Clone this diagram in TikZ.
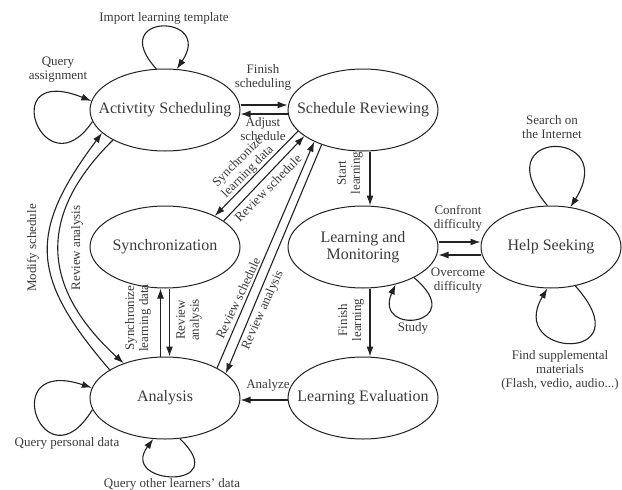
\documentclass[tikz,border=0pt]{standalone}
\usepackage{fontspec}
\setmainfont{Liberation Serif}
\usetikzlibrary{shapes.geometric,arrows.meta}
\definecolor{linec}{HTML}{222222}
\definecolor{txt}{HTML}{3A3A3A}
\begin{document}
\begin{tikzpicture}[x=1pt,y=-1pt,
  st/.style={ellipse,draw=linec,line width=1pt,minimum width=150pt,minimum height=82pt,
    inner xsep=-20pt,inner ysep=0pt,font=\fontsize{16}{17}\selectfont,text=txt,align=center},
  arr/.style={draw=linec,line width=1.1pt,-{Latex[length=10pt,width=7pt]}},
  lbl/.style={font=\fontsize{13}{14}\selectfont,text=txt,align=center,inner sep=0pt}
]
\useasboundingbox (0,0) rectangle (622,490);

% states
\node[st] (AS) at (165,110) {Activtity Scheduling};
\node[st] (SR) at (363,110) {Schedule Reviewing};
\node[st] (SY) at (165,247) {Synchronization};
\node[st] (LM) at (363,247) {Learning and\\Monitoring};
\node[st,minimum width=140pt] (HS) at (551,247) {Help Seeking};
\node[st] (LE) at (363,398) {Learning Evaluation};
\node[st] (AN) at (165,398) {Analysis};

% straight transitions
\draw[arr] ([yshift=5pt]AS.east) -- ([yshift=5pt]SR.west);
\draw[arr] ([yshift=-4pt]SR.west) -- ([yshift=-4pt]AS.east);
\draw[arr] ([xshift=7pt]SR.south) -- ([xshift=7pt]LM.north);
\draw[arr] ([xshift=7pt]LM.south) -- ([xshift=7pt]LE.north);
\draw[arr] ([yshift=5pt]LM.east) -- ([yshift=5pt]HS.west);
\draw[arr] ([yshift=-8pt]HS.west) -- ([yshift=-8pt]LM.east);
\draw[arr] ([yshift=-2pt]LE.west) -- ([yshift=-2pt]AN.east);
\draw[arr] ([xshift=-4.5pt]AN.north) -- ([xshift=-4.5pt]SY.south);
\draw[arr] ([xshift=4.5pt]SY.south) -- ([xshift=4.5pt]AN.north);

% diagonals
\draw[arr] (SR.198) -- (SY.32);
\draw[arr] (SY.24) -- (SR.204);
\draw[arr] (AN.30) -- (SR.213);
\draw[arr] (SR.220) -- (AN.22);

% long curves on the left
\draw[arr] (AN.153) .. controls +(-79,-92) and +(-75,100) .. (AS.200);
\draw[arr] (AS.210) .. controls +(-76,75) and +(-83,-76) .. (AN.140);

% self loops
\draw[arr] (AS.102) .. controls +(-51,-56) and +(38,-56) .. (AS.74);
\draw[arr] (AS.189) .. controls +(-48,72) and +(-97,-39) .. (AS.173);
\draw[arr] (AN.189) .. controls +(-48,80) and +(-97,-32) .. (AN.172);
\draw[arr] (AN.-70) .. controls +(55,52) and +(-35,47) .. (AN.-106);
\draw[arr] (LM.-31) .. controls +(57,48) and +(-23,52) .. (LM.-49);
\draw[arr] (HS.95) .. controls +(-65,-77) and +(50,-80) .. (HS.64);
\draw[arr] (HS.-58) .. controls +(70,78) and +(-42,70) .. (HS.-95);

% labels
\node[lbl] (t1) at (164,18) {Import learning template};
\node[lbl] (t2) at (58,70) {Query\\assignment};
\node[lbl] (t3) at (263,77) {Finish\\scheduling};
\node[lbl] (t4) at (263,129) {Adjust\\schedule};
\node[lbl,rotate=90] (t5) at (33,248) {Modify schedule};
\node[lbl,rotate=90] (t6) at (77,248) {Review analysis};
\node[lbl,rotate=45] (t7) at (243,167) {Synchronize\\learning data};
\node[lbl,rotate=45] (t8) at (268,188) {Review schedule};
\node[lbl,rotate=90] (t9) at (138,318) {Synchronize\\learning data};
\node[lbl,rotate=90] (t10) at (189,320) {Review\\analysis};
\node[lbl,rotate=65] (t11) at (238,298) {Review schedule};
\node[lbl,rotate=66] (t12) at (263,310) {Review analysis};
\node[lbl,rotate=90] (t13) at (350,173) {Start\\learning};
\node[lbl,rotate=90] (t14) at (351,320) {Finish\\learning};
\node[lbl] (t15) at (458,218) {Confront\\difficulty};
\node[lbl] (t16) at (458,281) {Overcome\\difficulty};
\node[lbl] (t17) at (268,385) {Analyze};
\node[lbl] (t18) at (413,328) {Study};
\node[lbl] (t19) at (552,127) {Search on\\the Internet};
\node[lbl] (t20) at (560,370) {Find supplemental\\materials\\(Flash, vedio, audio...)};
\node[lbl] (t21) at (67,443) {Query personal data};
\node[lbl] (t22) at (172,484) {Query other learners' data};
\end{tikzpicture}
\end{document}
